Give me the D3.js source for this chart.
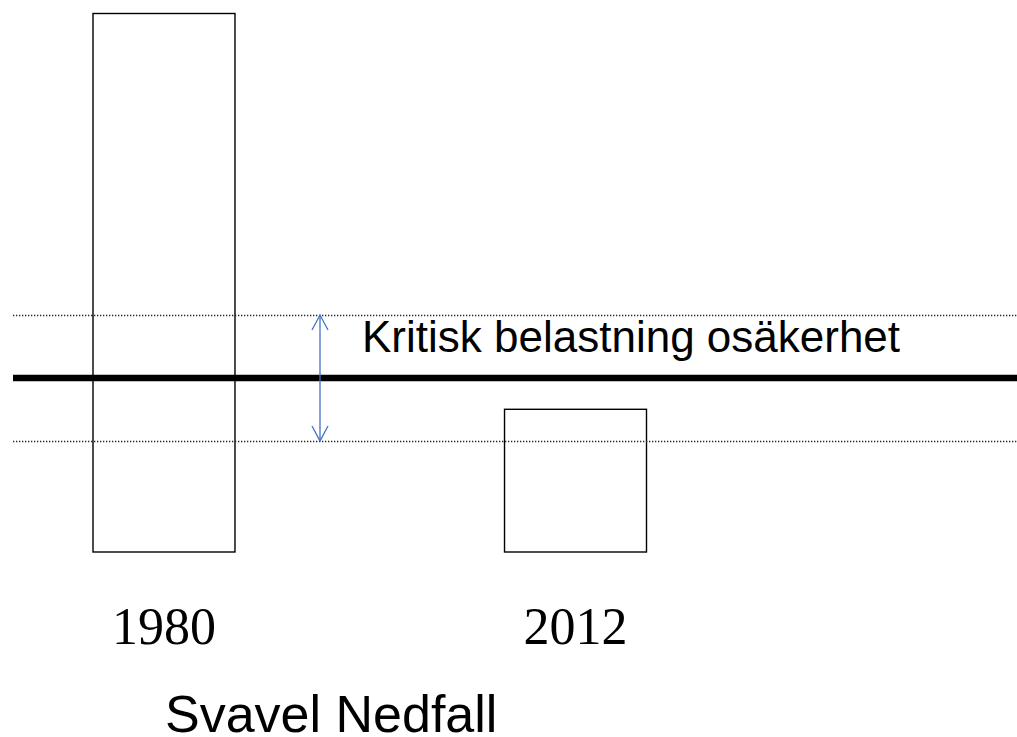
<!DOCTYPE html>
<html>
<head>
<meta charset="utf-8">
<script src="https://cdn.jsdelivr.net/npm/d3@7"></script>
<style>
  body { margin: 0; background: #fff; }
  svg { display: block; }
</style>
</head>
<body>
<div id="container"></div>
<script>
// deposition in relative units (1980 = 100)
var years = ['1980', '2012'];
var deposition = [100, 26.5];
var criticalLoad = 32.3;
var uncertainty = [20.6, 44.0]; // lower, upper

var title = 'Svavel Nedfall';
var loadLabel = 'Kritisk belastning osäkerhet';

var width = 1017, height = 737;

var svg = d3.select('#container').append('svg')
    .attr('width', width)
    .attr('height', height);

var x = d3.scaleBand()
    .domain(years)
    .range([93, 646.5])
    .paddingInner(0.655)
    .paddingOuter(0);

var y = d3.scaleLinear()
    .domain([0, 100])
    .range([552, 13.5]);

// bars
svg.append('g').selectAll('rect')
    .data(years)
    .enter().append('rect')
    .attr('x', function (d) { return x(d); })
    .attr('y', function (d, i) { return y(deposition[i]); })
    .attr('width', x.bandwidth())
    .attr('height', function (d, i) { return y(0) - y(deposition[i]); })
    .attr('fill', 'none')
    .attr('stroke', '#000')
    .attr('stroke-width', 1.4);

// uncertainty range (dotted)
svg.append('g').selectAll('line')
    .data(uncertainty)
    .enter().append('line')
    .attr('x1', 13).attr('x2', width)
    .attr('y1', function (d) { return Math.round(y(d)) + 0.5; })
    .attr('y2', function (d) { return Math.round(y(d)) + 0.5; })
    .attr('stroke', '#222')
    .attr('stroke-width', 1.3)
    .attr('stroke-dasharray', '1.3,1.7');

// critical load
svg.append('line')
    .attr('x1', 13).attr('x2', width)
    .attr('y1', y(criticalLoad)).attr('y2', y(criticalLoad))
    .attr('stroke', '#000')
    .attr('stroke-width', 6.5);

// double-headed arrow
var ax = 320, blue = '#4472C4';
var yTop = y(uncertainty[1]), yBot = y(uncertainty[0]);
var arrow = svg.append('g')
    .attr('stroke', blue)
    .attr('stroke-width', 1.3)
    .attr('fill', 'none');
arrow.append('line')
    .attr('x1', ax).attr('x2', ax)
    .attr('y1', yTop).attr('y2', yBot);
arrow.append('path')
    .attr('d', 'M' + (ax - 8) + ',' + (yTop + 15) + 'L' + ax + ',' + yTop + 'L' + (ax + 8) + ',' + (yTop + 15));
arrow.append('path')
    .attr('d', 'M' + (ax - 8) + ',' + (yBot - 15) + 'L' + ax + ',' + yBot + 'L' + (ax + 8) + ',' + (yBot - 15));

svg.append('text')
    .attr('x', 362)
    .attr('y', 352)
    .attr('font-family', 'Liberation Sans, Arial, sans-serif')
    .attr('font-size', 44)
    .text(loadLabel);

// year labels
svg.append('g').selectAll('text')
    .data(years)
    .enter().append('text')
    .attr('x', function (d) { return x(d) + x.bandwidth() / 2; })
    .attr('y', 644)
    .attr('text-anchor', 'middle')
    .attr('font-family', 'Liberation Serif, Times New Roman, serif')
    .attr('font-size', 52)
    .text(function (d) { return d; });

svg.append('text')
    .attr('x', 165)
    .attr('y', 732)
    .attr('font-family', 'Liberation Sans, Arial, sans-serif')
    .attr('font-size', 52)
    .text(title);
</script>
</body>
</html>
